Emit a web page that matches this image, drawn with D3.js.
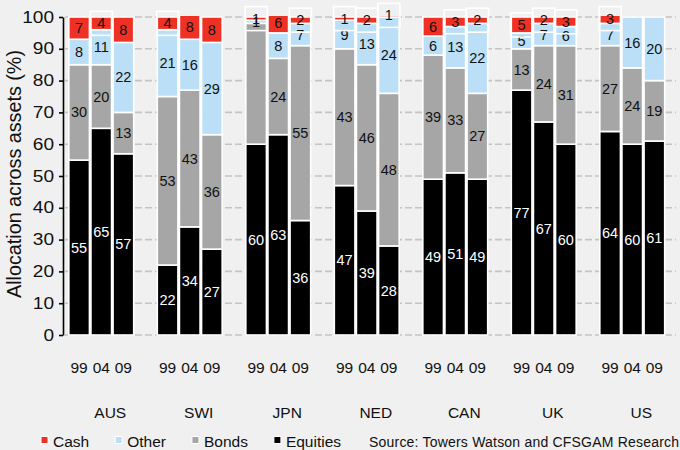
<!DOCTYPE html>
<html>
<head>
<meta charset="utf-8">
<script src="https://cdn.jsdelivr.net/npm/d3@7"></script>
<style>
  html, body { margin: 0; padding: 0; background: #f0f0f0; }
  svg { display: block; font-family: "Liberation Sans", Arial, sans-serif; }
</style>
</head>
<body>
<svg id="chart" width="680" height="450"></svg>
<script>
// Asset allocation of pension funds by country, 1999 / 2004 / 2009 (%)
const countries = ["AUS", "SWI", "JPN", "NED", "CAN", "UK", "US"];
const years = ["99", "04", "09"];
const seriesNames = ["Equities", "Bonds", "Other", "Cash"];   // stacking order, bottom to top
const legendNames = ["Cash", "Other", "Bonds", "Equities"];

// one row per country, one value per year
const equities = [[55, 65, 57], [22, 34, 27], [60, 63, 36], [47, 39, 28], [49, 51, 49], [77, 67, 60], [64, 60, 61]];
const bonds    = [[30, 20, 13], [53, 43, 36], [38, 24, 55], [43, 46, 48], [39, 33, 27], [13, 24, 31], [27, 24, 19]];
const other    = [[8, 11, 22],  [21, 16, 29], [1, 8, 7],    [9, 13, 24],  [6, 13, 22],  [5, 7, 6],    [7, 16, 20]];
const cash     = [[7, 4, 8],    [4, 8, 8],    [1, 6, 2],    [1, 2, 1],    [6, 3, 2],    [5, 2, 3],    [3, 0, 0]];

// segments printed without a value
const unlabelled = [["JPN", "99", "Bonds"]];

const yTicks = [0, 10, 20, 30, 40, 50, 60, 70, 80, 90, 100];
const yTitle = "Allocation across assets (%)";
const sourceNote = "Source: Towers Watson and CFSGAM Research";

const colors = { Equities: "#000000", Bonds: "#a6a6a6", Other: "#bbdff6", Cash: "#ee3124" };
const seriesData = { Equities: equities, Bonds: bonds, Other: other, Cash: cash };

const svg = d3.select("#chart");

const axisX = 63, plotTop = 17, plotBottom = 335, plotRight = 676;

const y = d3.scaleLinear().domain([0, 100]).range([plotBottom, plotTop]);
const xGroup = d3.scaleBand().domain(countries).range([57, 676.5]).paddingInner(0.25).paddingOuter(0.125);
const xYear = d3.scaleBand().domain(years).range([0, xGroup.bandwidth()]).padding(0);

// build rows for stacking
const rows = [];
countries.forEach((c, i) => years.forEach((yr, j) => {
  const r = { country: c, year: yr };
  seriesNames.forEach(s => r[s] = seriesData[s][i][j]);
  rows.push(r);
}));
const stacked = d3.stack().keys(seriesNames)(rows);

// dashed gridlines
svg.append("g").selectAll("line").data(yTicks).join("line")
  .attr("x1", axisX + 2).attr("x2", plotRight)
  .attr("y1", d => y(d)).attr("y2", d => y(d))
  .attr("stroke", "#c4c4c4").attr("stroke-width", 1.6).attr("stroke-dasharray", "7,3");

// bars, clipped at the 100% line
svg.append("clipPath").attr("id", "plotClip")
  .append("rect").attr("x", 0).attr("y", y(100) - 1).attr("width", 680).attr("height", plotBottom - y(100) + 3);

const barX = d => xGroup(d.data.country) + xYear(d.data.year);
const bw = xYear.bandwidth();

const bars = svg.append("g").attr("clip-path", "url(#plotClip)");
stacked.forEach(layer => {
  bars.append("g").selectAll("rect").data(layer.filter(d => d[1] > d[0])).join("rect")
    .attr("x", d => barX(d) + 0.75)
    .attr("width", bw - 1.5)
    .attr("y", d => y(d[1]))
    .attr("height", d => y(d[0]) - y(d[1]))
    .attr("fill", colors[layer.key])
    .attr("stroke", "#ffffff").attr("stroke-width", 1.6);
});

// value labels
const isHidden = (d, key) => unlabelled.some(u => u[0] === d.data.country && u[1] === d.data.year && u[2] === key);
const labels = svg.append("g").attr("font-size", 14.5).attr("text-anchor", "middle");
stacked.forEach(layer => {
  const pts = layer.filter(d => d[1] > d[0] && !isHidden(d, layer.key));
  if (layer.key === "Cash") {
    // small cash labels sit in an outlined label box
    labels.selectAll("rect.box-" + layer.key).data(pts.filter(d => d.data.Cash <= 5)).join("rect")
      .attr("x", d => barX(d))
      .attr("width", bw)
      .attr("y", d => y((d[0] + d[1]) / 2) - 12)
      .attr("height", 24)
      .attr("fill", "none").attr("stroke", "#ffffff").attr("stroke-width", 1.6);
  }
  labels.selectAll("text.l-" + layer.key).data(pts).join("text")
    .attr("x", d => barX(d) + bw / 2)
    .attr("y", d => y((d[0] + d[1]) / 2))
    .attr("dy", "0.35em")
    .attr("fill", layer.key === "Equities" ? "#ffffff" : "#111111")
    .text(d => d.data[layer.key]);
});

// y axis
const yAxis = svg.append("g").attr("transform", `translate(${axisX},0)`)
  .call(d3.axisLeft(y).tickValues(yTicks).tickSize(4).tickSizeOuter(0).tickPadding(5));
yAxis.select(".domain").attr("stroke", "#000").attr("stroke-width", 1.6);
yAxis.selectAll(".tick line").attr("stroke", "#000").attr("stroke-width", 1.6);
yAxis.selectAll(".tick text")
  .attr("font-family", "Liberation Sans, Arial, sans-serif")
  .attr("font-size", 16).attr("fill", "#111")
  .attr("textLength", d => String(d).length * 10.6)
  .attr("lengthAdjust", "spacingAndGlyphs");

svg.append("text")
  .attr("transform", `translate(21,${(plotTop + plotBottom) / 2 - 2}) rotate(-90)`)
  .attr("text-anchor", "middle")
  .attr("font-size", 20).attr("fill", "#111")
  .attr("textLength", 248).attr("lengthAdjust", "spacingAndGlyphs")
  .text(yTitle);

// year labels under each group
countries.forEach(c => {
  const g = svg.append("g").attr("transform", `translate(${xGroup(c)},${plotBottom})`)
    .call(d3.axisBottom(xYear).tickSize(0).tickPadding(27));
  g.select(".domain").remove();
  g.selectAll(".tick text").attr("font-family", "Liberation Sans, Arial, sans-serif")
    .attr("font-size", 15.5).attr("fill", "#111");
});

// country names
svg.append("g").selectAll("text").data(countries).join("text")
  .attr("x", c => xGroup(c) + xGroup.bandwidth() / 2 + 9)
  .attr("y", 417.5)
  .attr("text-anchor", "middle")
  .attr("font-size", 15.5).attr("fill", "#111")
  .text(c => c);

// legend
const legend = svg.append("g");
let lx = 41;
legendNames.forEach(name => {
  legend.append("rect").attr("x", lx).attr("y", 436.5).attr("width", 7).attr("height", 7)
    .attr("fill", colors[name]).attr("stroke", "#ffffff").attr("stroke-width", 1);
  const t = legend.append("text").attr("x", lx + 12).attr("y", 447)
    .attr("font-size", 15.5).attr("fill", "#111").text(name);
  lx += 12 + t.node().getComputedTextLength() + 26;
});
svg.append("text").attr("x", 369).attr("y", 447)
  .attr("font-size", 14).attr("fill", "#111")
  .attr("textLength", 310).attr("lengthAdjust", "spacing")
  .text(sourceNote);
</script>
</body>
</html>
